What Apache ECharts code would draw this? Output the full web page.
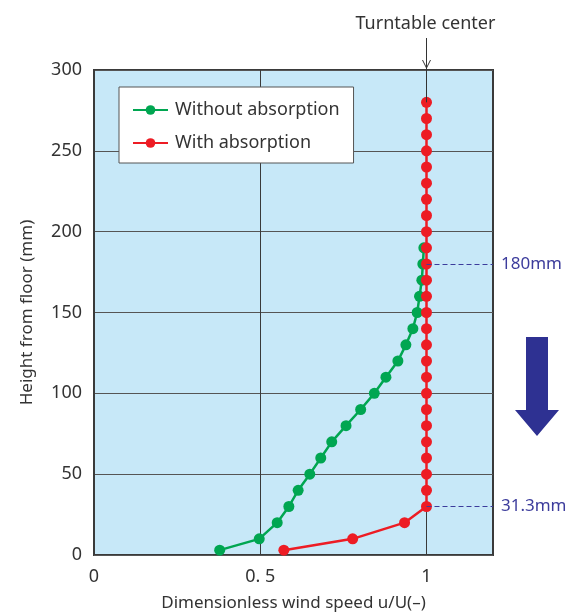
<!DOCTYPE html>
<html>
<head>
<meta charset="utf-8">
<script src="https://cdn.jsdelivr.net/npm/echarts@6/dist/echarts.min.js"></script>
<style>
html,body{margin:0;padding:0;background:#fff;}
#chart{width:587px;height:614px;}
</style>
</head>
<body>
<div id="chart"></div>
<script>
// ---- data ----
var greenHeights = [3, 10, 20, 30, 40, 50, 60, 70, 80, 90, 100, 110, 120, 130, 140, 150, 160, 170, 180, 190];
var greenSpeeds  = [0.378, 0.497, 0.551, 0.586, 0.614, 0.649, 0.682, 0.715, 0.758, 0.802, 0.843, 0.878, 0.914, 0.938, 0.959, 0.972, 0.979, 0.986, 0.989, 0.992];
var redHeights = [3, 10, 20, 30, 40, 50, 60, 70, 80, 90, 100, 110, 120, 130, 140, 150, 160, 170, 180, 190, 200, 210, 220, 230, 240, 250, 260, 270, 280];
var redSpeeds  = [0.571, 0.778, 0.934, 1.0, 1.0, 1.0, 1.0, 1.0, 1.0, 1.0, 1.0, 1.0, 1.0, 1.0, 1.0, 1.0, 1.0, 1.0, 1.0, 1.0, 1.0, 1.0, 1.0, 1.0, 1.0, 1.0, 1.0, 1.0, 1.0];
var seriesNames = ['Without absorption', 'With absorption'];
var xTickLabels = {0: '0', 0.5: '0. 5', 1: '1'};
var yTicks = [0, 50, 100, 150, 200, 250, 300];
var markHeights = [180, 30];
var markLabels = ['180mm', '31.3mm'];
var centerSpeed = 1.0;

function pairs(xs, ys) { return xs.map(function (x, i) { return [x, ys[i]]; }); }

var FONT = '"Noto Sans", "DejaVu Sans", sans-serif';
var NAVY = '#3c3c9c';
var chart = echarts.init(document.getElementById('chart'), null, {renderer: 'canvas'});

var option = {
  animation: false,
  backgroundColor: '#ffffff',
  grid: {
    left: 94, top: 70, right: 94, bottom: 59,
    containLabel: false, outerBoundsMode: 'none',
    show: true, backgroundColor: '#c7e8f8', borderColor: '#3a3a3a', borderWidth: 2, z: 0
  },
  legend: {
    orient: 'vertical',
    left: 119, top: 87,
    backgroundColor: '#ffffff',
    borderColor: '#555', borderWidth: 1,
    padding: [14, 14, 11, 13],
    itemWidth: 35, itemHeight: 12, itemGap: 15,
    textStyle: {fontFamily: FONT, fontSize: 18, color: '#333', padding: [0, 0, 0, 2]},
    data: seriesNames
  },
  xAxis: {
    type: 'value', min: 0, max: 1.2, interval: 0.5,
    name: 'Dimensionless wind speed u/U(–)', nameLocation: 'middle', nameGap: 40,
    nameTextStyle: {fontFamily: FONT, fontSize: 17, color: '#333'},
    axisLine: {show: false}, axisTick: {show: false},
    axisLabel: {
      margin: 13, fontFamily: FONT, fontSize: 18, color: '#333',
      formatter: function (v) { return xTickLabels.hasOwnProperty(v) ? xTickLabels[v] : ''; }
    },
    splitLine: {show: true, lineStyle: {color: '#3a3a3a', width: 1}}
  },
  yAxis: {
    type: 'value', min: yTicks[0], max: yTicks[yTicks.length - 1], interval: 50,
    name: 'Height from floor (mm)', nameLocation: 'middle', nameGap: 58,
    nameTextStyle: {fontFamily: FONT, fontSize: 17, color: '#333'},
    axisLine: {show: false}, axisTick: {show: false},
    axisLabel: {margin: 12, fontFamily: FONT, fontSize: 18, color: '#333'},
    splitLine: {show: true, lineStyle: {color: '#555', width: 1}}
  },
  series: [
    {
      name: seriesNames[0], type: 'line', data: pairs(greenSpeeds, greenHeights),
      symbol: 'circle', symbolSize: 11, z: 3,
      itemStyle: {color: '#00a651'}, lineStyle: {color: '#00a651', width: 2.5}
    },
    {
      name: seriesNames[1], type: 'line', data: pairs(redSpeeds, redHeights),
      symbol: 'circle', symbolSize: 11, z: 4,
      itemStyle: {color: '#ed1c24'}, lineStyle: {color: '#ed1c24', width: 2.5},
      markLine: {
        silent: true, symbol: 'none', animation: false,
        lineStyle: {color: NAVY, type: [5, 3], width: 1.2},
        label: {show: true, position: 'end', distance: 8, color: NAVY, fontFamily: FONT, fontSize: 17,
          formatter: function (p) { return p.data && p.data.labelText ? p.data.labelText : ''; }},
        data: markHeights.map(function (h, i) {
          return [{coord: [centerSpeed, h], labelText: markLabels[i]}, {coord: [1.2, h], labelText: markLabels[i]}];
        })
      }
    }
  ]
};
chart.setOption(option);

// turntable center pointer line, positioned via the axes
var pTop = chart.convertToPixel({gridIndex: 0}, [centerSpeed, 300]);
var pDot = chart.convertToPixel({gridIndex: 0}, [centerSpeed, redHeights[redHeights.length - 1]]);
var cx = pTop[0];
chart.setOption({
  graphic: [
    {type: 'text', left: cx - 71, top: 15, z: 10,
      style: {text: 'Turntable center', fontFamily: FONT, fontSize: 18, fill: '#333'}},
    {type: 'line', z: 10, shape: {x1: cx, y1: 38, x2: cx, y2: pDot[1]}, style: {stroke: '#333', lineWidth: 1}},
    {type: 'polyline', z: 10, shape: {points: [[cx - 4, pTop[1] - 10], [cx, pTop[1] - 2], [cx + 4, pTop[1] - 10]]},
      style: {stroke: '#333', lineWidth: 1, fill: null}},
    {type: 'polygon', z: 10,
      shape: {points: [[526, 337], [548, 337], [548, 410], [559, 410], [537, 436], [515, 410], [526, 410]]},
      style: {fill: '#2e3192'}}
  ]
});
</script>
</body>
</html>
